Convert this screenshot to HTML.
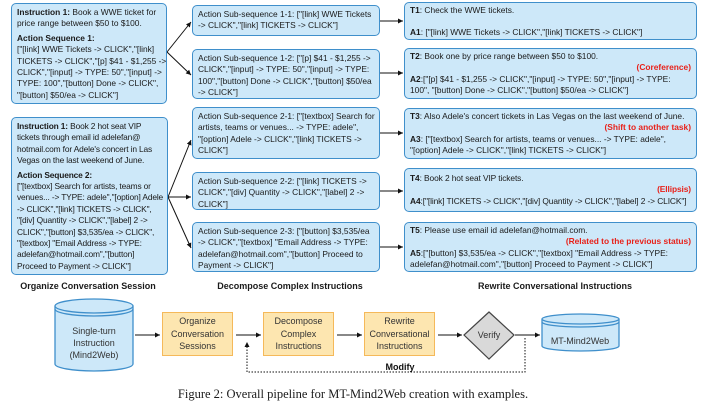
<!DOCTYPE html>
<html><head><meta charset="utf-8"><style>
body{margin:0;width:706px;height:407px;background:#fff;position:relative;overflow:hidden;font-family:"Liberation Sans",sans-serif;color:#1a1a1a}
.b{position:absolute;background:#cde8f9;border:1.3px solid #3f8fcb;border-radius:5px;box-sizing:border-box;font-size:8.4px;line-height:11.4px;padding:3px 5px;white-space:nowrap}
.r{color:#e8211a;font-weight:bold;text-align:right}
.lab{position:absolute;font-size:9px;font-weight:bold;white-space:nowrap;transform:translateX(-50%)}
.o{position:absolute;background:#fde6b0;border:1.5px solid #f5b95a;box-sizing:border-box;font-size:9px;line-height:12.5px;text-align:center;display:flex;align-items:center;justify-content:center;color:#333}
svg{position:absolute;left:0;top:0}
</style></head><body>
<svg width="706" height="407">
<defs><marker id="a" markerWidth="6" markerHeight="6" refX="5" refY="3" orient="auto"><path d="M0,0.5 L5,3 L0,5.5z" fill="#111"/></marker></defs>
<g stroke="#111" stroke-width="1" fill="none" marker-end="url(#a)">
<line x1="167" y1="52" x2="191" y2="22"/><line x1="167" y1="52" x2="191" y2="75"/>
<line x1="168" y1="197" x2="191" y2="140"/><line x1="168" y1="197" x2="191" y2="197"/><line x1="168" y1="197" x2="191" y2="248"/>
<line x1="380" y1="21" x2="403" y2="21"/><line x1="380" y1="73" x2="403" y2="73"/><line x1="380" y1="133" x2="403" y2="133"/><line x1="380" y1="191" x2="403" y2="191"/><line x1="380" y1="247" x2="403" y2="247"/>
<line x1="135" y1="335" x2="160" y2="335"/><line x1="236" y1="335" x2="261" y2="335"/><line x1="337" y1="335" x2="362" y2="335"/><line x1="438" y1="335" x2="462" y2="335"/><line x1="515" y1="335" x2="540" y2="335"/>
</g>
<path d="M525,338 V372 H247 V342" stroke="#111" stroke-width="1" fill="none" stroke-dasharray="1.5,1.5" marker-end="url(#a)"/>
<g stroke="#3f8fcb" stroke-width="1.3" fill="#cde8f9">
<path d="M55,306 V364 A39,7 0 0 0 133,364 V306"/><ellipse cx="94" cy="306" rx="39" ry="7"/><path d="M55,309 A39,7 0 0 0 133,309" fill="none"/>
<path d="M542,319 V346 A38.5,5 0 0 0 619,346 V319"/><ellipse cx="580.5" cy="319" rx="38.5" ry="5"/><path d="M542,322 A38.5,5 0 0 0 619,322" fill="none"/>
</g>
<polygon points="489,312 514,335 489,359 464,335" fill="#d9d9d9" stroke="#444" stroke-width="1.2"/>
<g font-size="9" fill="#333" text-anchor="middle" font-family="Liberation Sans,sans-serif">
<text x="94" y="334">Single-turn</text><text x="94" y="346">Instruction</text><text x="94" y="358">(Mind2Web)</text>
<text x="489" y="338">Verify</text><text x="580" y="344">MT-Mind2Web</text>
<text x="400" y="370" font-weight="bold" fill="#111">Modify</text>
</g>
</svg>
<div class="b" style="left:11px;top:3px;width:156px;height:101px"><b>Instruction 1:</b> Book a WWE ticket for<br>price range between $50 to $100.<div style="height:3px"></div><b>Action Sequence 1:</b><br>["[link]  WWE Tickets -&gt; CLICK","[link]<br>TICKETS -&gt; CLICK","[p]  $41 - $1,255 -&gt;<br>CLICK","[input]   -&gt; TYPE: 50","[input]   -&gt;<br>TYPE: 100","[button]  Done -&gt; CLICK",<br>"[button]  $50/ea -&gt; CLICK"]</div>
<div class="b" style="left:11px;top:117px;width:157px;height:158px;letter-spacing:-0.15px"><b>Instruction 1:</b> Book 2 hot seat VIP<br>tickets through email id adelefan@<br>hotmail.com for Adele's concert in Las<br>Vegas on the last weekend of June.<div style="height:3px"></div><b>Action Sequence 2:</b><br>["[textbox]  Search for artists, teams or<br>venues... -&gt; TYPE: adele","[option] Adele<br>-&gt; CLICK","[link]  TICKETS -&gt; CLICK",<br>"[div]  Quantity -&gt; CLICK","[label]  2 -&gt;<br>CLICK","[button]  $3,535/ea -&gt; CLICK",<br>"[textbox]  "Email Address -&gt; TYPE:<br>adelefan@hotmail.com","[button]<br>Proceed to Payment -&gt; CLICK"]</div>
<div class="b" style="left:192px;top:5px;width:188px;height:31px">Action Sub-sequence 1-1: ["[link]  WWE Tickets<br>-&gt; CLICK","[link]  TICKETS -&gt; CLICK"]</div>
<div class="b" style="left:192px;top:49px;width:188px;height:50px">Action Sub-sequence 1-2: ["[p]  $41 - $1,255 -&gt;<br>CLICK","[input]   -&gt; TYPE: 50","[input]   -&gt; TYPE:<br>100","[button]  Done -&gt; CLICK","[button]  $50/ea<br>-&gt; CLICK"]</div>
<div class="b" style="left:192px;top:107px;width:188px;height:52px">Action Sub-sequence 2-1: ["[textbox]  Search for<br>artists, teams or venues... -&gt; TYPE: adele",<br>"[option]  Adele -&gt; CLICK","[link]  TICKETS -&gt;<br>CLICK"]</div>
<div class="b" style="left:192px;top:172px;width:188px;height:38px">Action Sub-sequence 2-2: ["[link]  TICKETS -&gt;<br>CLICK","[div]  Quantity -&gt; CLICK","[label]  2 -&gt;<br>CLICK"]</div>
<div class="b" style="left:192px;top:222px;width:188px;height:50px">Action Sub-sequence 2-3: ["[button]  $3,535/ea<br>-&gt; CLICK","[textbox]  "Email Address -&gt; TYPE:<br>adelefan@hotmail.com","[button]  Proceed to<br>Payment -&gt; CLICK"]</div>
<div class="b" style="left:404px;top:2px;width:293px;height:38px;padding-top:2px"><b>T1</b>: Check the WWE tickets.<br><div style="height:11px"></div><b>A1</b>: ["[link]  WWE Tickets -&gt; CLICK","[link]  TICKETS -&gt; CLICK"]</div>
<div class="b" style="left:404px;top:48px;width:293px;height:51px;padding-top:2px"><b>T2</b>: Book one by price range between $50 to $100.<div class="r">(Coreference)</div><b>A2</b>:["[p]  $41 - $1,255 -&gt; CLICK","[input]   -&gt; TYPE: 50","[input]   -&gt; TYPE:<br>100", "[button]  Done -&gt; CLICK","[button]  $50/ea -&gt; CLICK"]</div>
<div class="b" style="left:404px;top:108px;width:293px;height:51px;padding-top:2px"><b>T3</b>: Also Adele's concert tickets in Las Vegas on the last weekend of June.<div class="r">(Shift to another task)</div><b>A3</b>: ["[textbox]  Search for artists, teams or venues... -&gt; TYPE: adele",<br>"[option]  Adele -&gt; CLICK","[link]  TICKETS -&gt; CLICK"]</div>
<div class="b" style="left:404px;top:168px;width:293px;height:44px;padding-top:4px;letter-spacing:-0.1px"><b>T4</b>: Book 2 hot seat VIP tickets.<div class="r">(Ellipsis)</div><b>A4</b>:["[link]  TICKETS -&gt; CLICK","[div]  Quantity -&gt; CLICK","[label]  2 -&gt; CLICK"]</div>
<div class="b" style="left:404px;top:222px;width:293px;height:50px;padding-top:2px"><b>T5</b>: Please use email id adelefan@hotmail.com.<div class="r">(Related to the previous status)</div><b>A5</b>:["[button]  $3,535/ea -&gt; CLICK","[textbox]  "Email Address -&gt; TYPE:<br>adelefan@hotmail.com","[button]  Proceed to Payment -&gt; CLICK"]</div>
<div class="lab" style="left:88px;top:281px">Organize Conversation Session</div>
<div class="lab" style="left:290px;top:281px">Decompose Complex Instructions</div>
<div class="lab" style="left:555px;top:281px">Rewrite Conversational Instructions</div>
<div class="o" style="left:162px;top:312px;width:71px;height:44px">Organize<br>Conversation<br>Sessions</div>
<div class="o" style="left:263px;top:312px;width:71px;height:44px">Decompose<br>Complex<br>Instructions</div>
<div class="o" style="left:364px;top:312px;width:71px;height:44px">Rewrite<br>Conversational<br>Instructions</div>
<div style="position:absolute;left:0;width:706px;top:387px;text-align:center;font-family:'Liberation Serif',serif;font-size:12.5px">Figure 2: Overall pipeline for MT-Mind2Web creation with examples.</div>
</body></html>
